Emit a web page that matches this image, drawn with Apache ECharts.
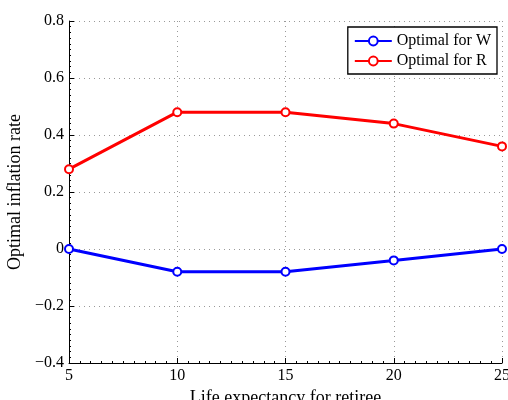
<!DOCTYPE html>
<html>
<head>
<meta charset="utf-8">
<script src="https://cdn.jsdelivr.net/npm/echarts@6/dist/echarts.min.js"></script>
<style>html,body{margin:0;padding:0;background:#fff}#c{width:508px;height:400px}</style>
</head>
<body>
<div id="c"></div>
<script>
var lifeExpectancy = [5, 10, 15, 20, 25];
var optimalW = [0.0, -0.08, -0.08, -0.04, 0.0];
var optimalR = [0.28, 0.48, 0.48, 0.44, 0.36];
var seriesNames = ['Optimal for W', 'Optimal for R'];
var seriesColors = ['#0000ff', '#ff0000'];
var xLabel = 'Life expectancy for retiree';
var yLabel = 'Optimal inflation rate';

var FONT = '"Liberation Serif", "Times New Roman", serif';
function pairs(xs, ys){ return xs.map(function(x,i){ return [x, ys[i]]; }); }
function mkSeries(name, color, ys){
  return {
    name: name, type: 'line', data: pairs(lifeExpectancy, ys),
    symbol: 'emptyCircle', symbolSize: 8,
    lineStyle: {color: color, width: 3},
    itemStyle: {color: color, borderColor: color, borderWidth: 2.5},
    emphasis: {disabled: true}, animation: false, z: 5
  };
}
var chart = echarts.init(document.getElementById('c'), null, {renderer: 'canvas'});
chart.setOption({
  animation: false,
  backgroundColor: '#fff',
  grid: {left: 69, right: 6, top: 21, bottom: 37, containLabel: false, outerBoundsMode: 'none'},
  legend: {
    data: seriesNames, orient: 'vertical', right: 11, top: 27,
    backgroundColor: '#fff', borderColor: '#000', borderWidth: 1.3, borderRadius: 0,
    padding: [6, 6, 5, 6], itemGap: 4, itemWidth: 37, itemHeight: 11,
    textStyle: {fontFamily: FONT, fontSize: 16, color: '#000'}
  },
  xAxis: {
    type: 'value', min: 5, max: 25, interval: 5,
    name: xLabel, nameLocation: 'middle', nameGap: 20,
    nameTextStyle: {fontFamily: FONT, fontSize: 18, color: '#000'},
    axisLine: {show: true, onZero: false, lineStyle: {color: '#000', width: 1}},
    axisTick: {show: true, inside: true, length: 5, lineStyle: {color: '#000'}},
    minorTick: {show: true, splitNumber: 10, length: 2, lineStyle: {color: '#000'}},
    axisLabel: {fontFamily: FONT, fontSize: 16, color: '#000', margin: 5},
    splitLine: {show: true, showMinLine: false, lineStyle: {color: '#999', type: [1, 4], width: 1}}
  },
  yAxis: {
    type: 'value', min: -0.4, max: 0.8, interval: 0.2,
    name: yLabel, nameLocation: 'middle', nameGap: 39, nameRotate: 90,
    nameTextStyle: {fontFamily: FONT, fontSize: 18, color: '#000'},
    axisLine: {show: true, onZero: false, lineStyle: {color: '#000', width: 1}},
    axisTick: {show: true, inside: true, length: 5, lineStyle: {color: '#000'}},
    minorTick: {show: true, splitNumber: 10, length: 2, lineStyle: {color: '#000'}},
    axisLabel: {fontFamily: FONT, fontSize: 16, color: '#000', margin: 5,
      formatter: function(v){ var r = Math.round(v*10)/10; if (r === 0) return '0'; return (r < 0 ? '\u2212' : '') + Math.abs(r).toFixed(1); }},
    splitLine: {show: true, showMinLine: false, lineStyle: {color: '#999', type: [1, 4], width: 1}}
  },
  series: [
    mkSeries(seriesNames[0], seriesColors[0], optimalW),
    mkSeries(seriesNames[1], seriesColors[1], optimalR)
  ]
});
</script>
</body>
</html>
